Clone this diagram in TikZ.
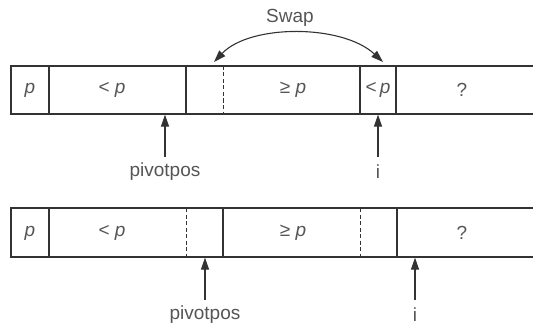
\documentclass[tikz,border=0pt]{standalone}
\usepackage{fontspec}
\setmainfont{Liberation Sans}
\usetikzlibrary{arrows.meta}
\definecolor{ln}{HTML}{333333}
\definecolor{tx}{HTML}{555555}
\begin{document}
\begin{tikzpicture}[x=1pt,y=-1pt,
  cell/.style={draw=ln,line width=1.3pt},
  dashln/.style={draw=ln,line width=1pt,dash pattern=on 4pt off 2.5pt},
  lbl/.style={text=tx,font=\fontsize{19}{21}\selectfont,inner sep=0pt},
  tip/.style={Triangle[length=12pt,width=8pt]},
  ptr/.style={draw=ln,line width=1.1pt,-{Triangle[length=12pt,width=8pt]}},
  swp/.style={draw=ln,line width=1.1pt,{Triangle[length=12pt,width=8pt]}-{Triangle[length=12pt,width=8pt]}}]
\useasboundingbox (0,0) rectangle (533,329);
% top row
\draw[cell] (545,66) -- (11,66) -- (11,114) -- (545,114);
\draw[cell] (49,66) -- (49,114);
\draw[cell] (186,66) -- (186,114);
\draw[dashln] (223.5,66) -- (223.5,114);
\draw[cell] (360,66) -- (360,114);
\draw[cell] (396,66) -- (396,114);
\node[lbl] (t1) at (30,90) {\itshape p};
\node[lbl] (t2) at (112,90) {< \itshape p};
\node[lbl] (t3) at (293,90) {≥ \itshape p};
\node[lbl] (t4) at (378,90) {<\,\itshape p};
\node[lbl] (t5) at (462,90) {?};
% swap
\node[lbl] (swap) at (290,18) {Swap};
\coordinate (sa) at (214,62);
\coordinate (sb) at (383,62);
\draw[swp] (sa) .. controls (250,24) and (342,24) .. (sb);
% top pointers
\node[lbl] (pp1) at (165,172) {pivotpos};
\node[lbl] (i1) at (378,172) {i};
\coordinate (pp1t) at (165,157);
\coordinate (i1t) at (378,157);
\coordinate (pp1h) at (165,114.6);
\coordinate (i1h) at (378,114.6);
\draw[ptr] (pp1t) -- (pp1h);
\draw[ptr] (i1t) -- (i1h);
% bottom row
\draw[cell] (545,208) -- (11,208) -- (11,257) -- (545,257);
\draw[cell] (49,208) -- (49,257);
\draw[dashln] (186,208) -- (186,257);
\draw[cell] (223,208) -- (223,257);
\draw[dashln] (360,208) -- (360,257);
\draw[cell] (397,208) -- (397,257);
\node[lbl] (b1) at (30,233) {\itshape p};
\node[lbl] (b2) at (112,233) {< \itshape p};
\node[lbl] (b3) at (293,233) {≥ \itshape p};
\node[lbl] (b5) at (462,233) {?};
% bottom pointers
\node[lbl] (pp2) at (205,315) {pivotpos};
\node[lbl] (i2) at (415,315) {i};
\coordinate (pp2t) at (205,300);
\coordinate (i2t) at (415,300);
\coordinate (pp2h) at (205,257.6);
\coordinate (i2h) at (415,257.6);
\draw[ptr] (pp2t) -- (pp2h);
\draw[ptr] (i2t) -- (i2h);
\end{tikzpicture}
\end{document}
